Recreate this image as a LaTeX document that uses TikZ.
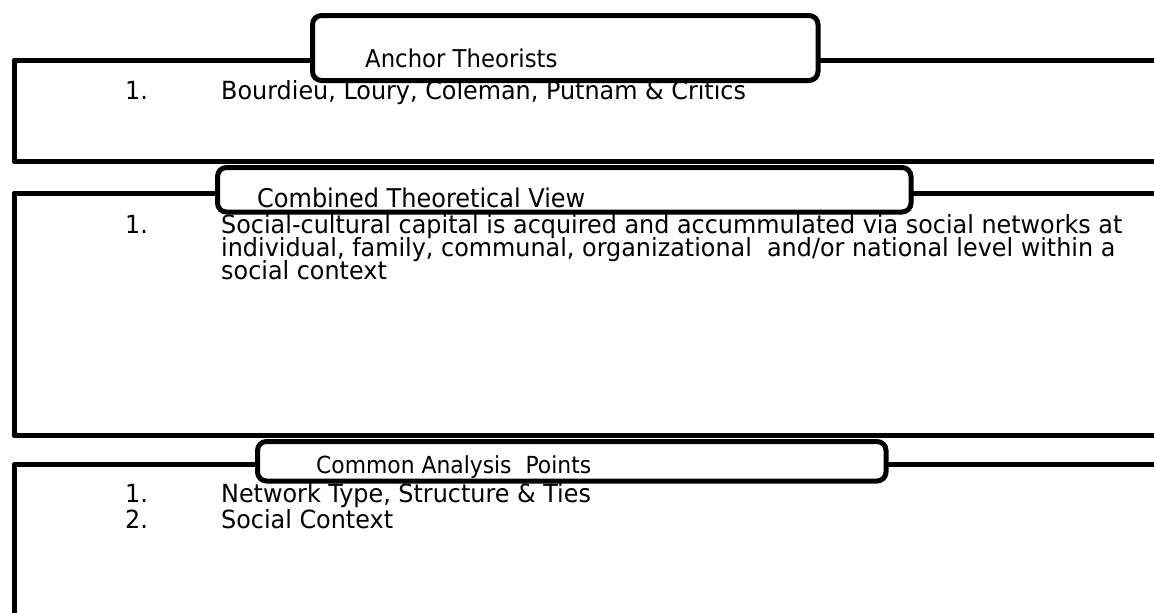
\documentclass[tikz,border=0pt]{standalone}
\usepackage{fontspec}
\setmainfont{DejaVu Sans}[FakeStretch=0.955]
\newfontfamily\labelfont{DejaVu Sans}[FakeStretch=0.93]
\begin{document}
\begin{tikzpicture}[x=1pt,y=-1pt,
  panel/.style={draw=black,line width=5pt,line join=round},
  labelbox/.style={draw=black,fill=white,line width=5pt,rounded corners=9pt},
  bodytext/.style={anchor=base west,inner sep=0pt,font=\fontsize{25}{25}\selectfont},
  labeltext/.style={anchor=base west,inner sep=0pt,font=\labelfont\fontsize{24.5}{24.5}\selectfont}]
\useasboundingbox (0,0) rectangle (1154,613);
\clip (0,0) rectangle (1154,613);
% panels
\draw[panel] (1180,60) -- (14,60) -- (14,161.5) -- (1180,161.5);
\draw[panel] (1180,193) -- (14,193) -- (14,435.5) -- (1180,435.5);
\draw[panel] (1180,464.5) -- (14,464.5) -- (14,640);
% body texts
\node[bodytext] (n11) at (125,99) {1.};
\node[bodytext] (t11) at (221,99) {Bourdieu, Loury, Coleman, Putnam \& Critics};
\node[bodytext] (n21) at (125,233) {1.};
\node[bodytext] (t21) at (221,233) {Social-cultural capital is acquired and accummulated via social networks at};
\node[bodytext] (t22) at (221,256) {individual, family, communal, organizational\ \ and/or national level within a};
\node[bodytext] (t23) at (221,279) {social context};
\node[bodytext] (n31) at (125,502) {1.};
\node[bodytext] (t31) at (221,502) {Network Type, Structure \& Ties};
\node[bodytext] (n32) at (125,528) {2.};
\node[bodytext] (t32) at (221,528) {Social Context};
% label boxes
\draw[labelbox] (312.5,15.5) rectangle (818,80.5) node[pos=0.5] (b1) {};
\draw[labelbox] (217.5,167.5) rectangle (911,212) node[pos=0.5] (b2) {};
\draw[labelbox] (257.5,441.5) rectangle (886,481) node[pos=0.5] (b3) {};
\node[labeltext] (l1) at (365,67) {Anchor Theorists};
\node[labeltext,font=\labelfont\fontsize{25.8}{25.8}\selectfont] (l2) at (257,207) {Combined Theoretical View};
\node[labeltext,font=\labelfont\fontsize{23.5}{23.5}\selectfont] (l3) at (316,473) {Common Analysis\ \ Points};
\end{tikzpicture}
\end{document}
